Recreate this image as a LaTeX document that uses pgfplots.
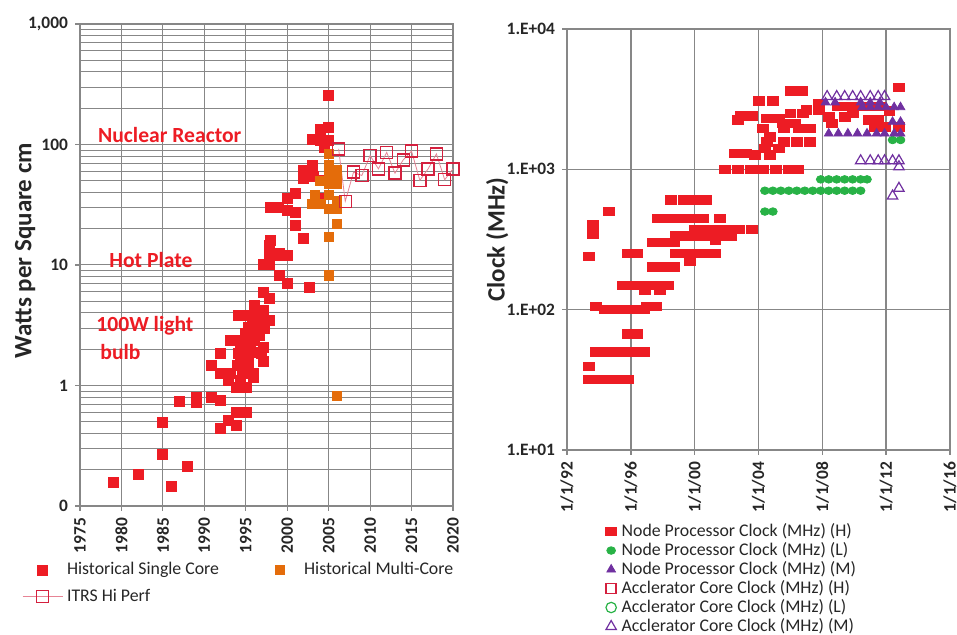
\documentclass[border=0pt]{standalone}
\usepackage{pgfplots}
\pgfplotsset{compat=1.18}
\usepackage{fontspec}
\setmainfont{Carlito}
\definecolor{cred}{RGB}{237,28,36}
\definecolor{corange}{RGB}{228,108,10}
\definecolor{citrs}{RGB}{212,32,62}
\definecolor{cgreen}{RGB}{40,178,70}
\definecolor{cpurple}{RGB}{112,48,160}
\definecolor{cgrid}{RGB}{135,135,135}
\begin{document}
\begin{tikzpicture}
\useasboundingbox (0,0) rectangle (478.5pt,317.5pt);
% ---------------- left chart ----------------
\begin{axis}[
  at={(40pt,64.5pt)}, anchor=south west, scale only axis,
  width=186.5pt, height=241pt, clip=false,
  xmin=1975, xmax=2020, ymode=log, ymin=0.1, ymax=1000,
  xtick={1975,1980,...,2020},
  xticklabels={1975,1980,1985,1990,1995,2000,2005,2010,2015,2020},
  ytick={0.1,1,10,100,1000},
  yticklabels={0,1,10,100,{1,000}},
  minor ytick={0.2,0.3,0.4,0.5,0.6,0.7,0.8,0.9,2,3,4,5,6,7,8,9,20,30,40,50,60,70,80,90,200,300,400,500,600,700,800,900},
  grid=both,
  major grid style={cgrid, line width=0.5pt},
  minor grid style={cgrid, line width=0.5pt},
  axis line style={cgrid, line width=0.7pt},
  tick style={cgrid, line width=0.6pt},
  tick align=outside, major tick length=2.5pt, minor tick length=0pt,
  xtick pos=bottom, ytick pos=left,
  ticklabel style={font=\bfseries\fontsize{8.7}{10}\selectfont, text=black!85},
  xticklabel style={rotate=90, anchor=east},
  ylabel={Watts per Square cm},
  ylabel style={at={(axis description cs:-0.147,0.53)}, anchor=center, font=\bfseries\fontsize{12.5}{14}\selectfont, text=black!85},
  legend columns=2,
  legend cell align=left,
  legend image code/.code={\path[draw=none,fill=none] (0pt,-2pt) rectangle (20pt,2pt); \draw[mark repeat=2,mark phase=2,#1] plot coordinates {(0pt,0pt) (10pt,0pt) (20pt,0pt)};},
  legend style={at={(axis description cs:-0.172,-0.1)}, anchor=north west, draw=none, fill=none,
    font=\fontsize{8.9}{10}\selectfont, text=black!85, row sep=1.5pt,
    /tikz/every even column/.append style={column sep=18.5pt}},
]
\addplot[only marks, mark=square*, mark size=2.5pt, mark options={draw=cred, fill=cred}] coordinates {
(1979,0.156) (1982,0.184) (1985,0.49) (1985,0.27) (1986,0.145) (1987,0.74) (1988,0.214)
(1989,0.80) (1989,0.72) (1990.9,1.47) (1990.9,0.80) (1991.9,1.83) (1991.9,1.25) (1991.9,0.75)
(1991.9,0.44) (1992.9,1.10) (1992.9,0.51) (1993.1,2.36) (1993.1,1.25) (1993.9,0.97) (1993.9,0.60)
(1993.9,0.47) (1994.1,3.8) (1994.1,1.83) (1994.0,1.47) (1994.3,2.36) (1994.3,2.08) (1994.3,1.10)
(1994.3,1.66) (1994.9,2.69) (1995.1,0.97) (1995.1,0.60) (1995.3,3.8) (1995.3,3.05) (1995.3,2.08)
(1995.3,1.66) (1995.3,1.47) (1995.9,1.25) (1995.9,1.17) (1996.1,4.6) (1996.1,2.36) (1996.5,3.46)
(1996.9,1.83) (1997.1,5.95) (1997.1,4.2) (1997.1,2.08) (1997.1,1.6) (1997.1,10.2) (1997.9,5.25)
(1997.9,3.46) (1997.9,10.2) (1997.9,14.5) (1997.8,12.0) (1998,15.9) (1998,30) (1998,12.4)
(1998.9,30) (1999.1,12.0) (1999.1,8.2) (1999,12.4) (2000,7.0) (2000,12.0) (2000,28.2) (2000,35.5)
(2001,39) (2001,27.4) (2001,21.3) (2002,16.5) (2002,52) (2002,61) (2002.7,6.5) (2003,67) (2003,111)
(2003.2,54) (2004,50) (2004,134) (2004,109) (2004,35.5) (2004.5,95) (2005,254) (2005,139) (2005,109)
(1995.7,2.6) (1996.3,3.0) (1996.0,1.9) (1995.6,2.2) (1996.7,2.6) (1997.3,3.0) (1996.6,4.0)
(1995.8,3.4) (1994.8,1.9) (1995.0,1.3) (1994.6,1.25)
};
\addlegendentry{Historical Single Core}
\addplot[only marks, mark=square*, mark size=2.3pt, mark options={draw=corange, fill=corange}] coordinates {
(2003,32) (2003.3,38) (2004,32) (2004,50) (2005,84) (2005,67) (2005,57) (2005,47) (2005,38)
(2005,29) (2005,17) (2005,8.2) (2006,61) (2006,57) (2006,47) (2006,34) (2006,29) (2006,22) (2006,0.82)
};
\addlegendentry{Historical Multi-Core}
\addplot[color=citrs!55, line width=0.4pt, mark=square, mark size=3pt, mark options={draw=citrs, line width=0.7pt, fill=none}] coordinates {
(2006.2,92) (2007,33.8) (2008,58.9) (2009,55.3) (2010,81) (2011,62.8) (2012,86) (2013,57.8)
(2014,74.6) (2015,88) (2016,50.4) (2017,62.8) (2018,83.6) (2019,51) (2020,62.8)
};
\addlegendentry{ITRS Hi Perf}
\end{axis}
\node[anchor=west, text=cred, font=\bfseries\fontsize{10.8}{12}\selectfont, inner sep=0pt] at (48.85pt,250pt) {Nuclear Reactor};
\node[anchor=west, text=cred, font=\bfseries\fontsize{10.8}{12}\selectfont, inner sep=0pt] at (54.5pt,187.5pt) {Hot Plate};
\node[anchor=west, text=cred, font=\bfseries\fontsize{10.8}{12}\selectfont, inner sep=0pt] at (48pt,154.5pt) {100W light};
\node[anchor=west, text=cred, font=\bfseries\fontsize{10.8}{12}\selectfont, inner sep=0pt] at (50pt,141.5pt) {bulb};
% ---------------- right chart ----------------
\begin{axis}[
  at={(283.5pt,92.5pt)}, anchor=south west, scale only axis,
  width=191.5pt, height=210.5pt, clip=false,
  xmin=1992, xmax=2016, ymode=log, ymin=10, ymax=10000,
  xtick={1992,1996,...,2016},
  xticklabels={1/1/92,1/1/96,1/1/00,1/1/04,1/1/08,1/1/12,1/1/16},
  ytick={10,100,1000,10000},
  yticklabels={1.E+01,1.E+02,1.E+03,1.E+04},
  minor ytick={},
  grid=major,
  major grid style={cgrid, line width=0.8pt},
  axis line style={cgrid, line width=0.8pt},
  tick style={cgrid, line width=0.7pt},
  tick align=outside, major tick length=2.5pt, minor tick length=0pt,
  xtick pos=bottom, ytick pos=left,
  ticklabel style={font=\bfseries\fontsize{8.7}{10}\selectfont, text=black!85},
  xticklabel style={rotate=90, anchor=east},
  ylabel={Clock (MHz)},
  ylabel style={at={(axis description cs:-0.182,0.5)}, anchor=center, font=\bfseries\fontsize{12.5}{14}\selectfont, text=black!85},
  legend cell align=left,
  legend image code/.code={\draw[#1] plot coordinates {(0pt,0pt)};},
  legend style={at={(axis description cs:0.1,-0.173)}, anchor=north west, draw=none, fill=none,
    inner sep=0pt, font=\fontsize{8.9}{10}\selectfont, text=black!85, row sep=1.2pt,
    nodes={inner sep=0pt, text height=6.5pt, text depth=1.8pt},
    /tikz/every odd column/.append style={column sep=2.5pt}},
]
\addplot[only marks, mark=square*, mark size=2.1pt, mark options={xscale=1.3, draw=cred, fill=cred}] coordinates {
(1993.4,32) (1994.0,32) (1994.6,32) (1995.2,32) (1995.8,32)
(1993.4,39.6)
(1993.8,50) (1994.4,50) (1995.0,50) (1995.6,50) (1996.2,50) (1996.8,50)
(1995.8,67) (1996.4,67)
(1994.4,100) (1995.0,100) (1995.6,100) (1996.2,100) (1996.8,100)
(1993.8,106) (1997.0,106) (1997.6,106)
(1996.9,138) (1997.8,138)
(1995.5,149) (1996.2,149) (1996.9,149) (1997.6,149) (1998.3,149)
(1997.4,202) (1998.0,202) (1998.7,202)
(1999.7,222)
(1993.4,239)
(1995.8,252) (1996.4,252) (1998.8,252) (1999.4,252) (2000.0,252) (2000.6,252) (2001.3,252)
(1997.4,302) (1998.1,302) (1998.7,302)
(2001.3,313)
(1998.8,335) (1999.5,335) (2000.2,335) (2000.9,335) (2001.6,335) (2002.3,335)
(1993.6,344)
(2000.0,374) (2000.7,374) (2001.4,374) (2002.1,374) (2002.8,374) (2003.6,374)
(1993.6,401)
(1997.7,448) (1998.4,448) (1999.1,448) (1999.8,448) (2000.5,448) (2001.6,448)
(1994.6,499)
(1998.5,604) (1999.3,604) (2000.1,604) (2000.7,604)
(2001.9,1000) (2002.7,1000) (2003.5,1000) (2004.3,1000) (2005.1,1000) (2005.9,1000) (2006.5,1000)
(2003.8,1265) (2004.7,1265)
(2002.5,1300) (2003.2,1300)
(2004.4,1410) (2005.3,1410)
(2004.5,1570) (2005.6,1570) (2006.4,1570) (2007.2,1570)
(2004.7,1707)
(2004.3,1960) (2005.6,1960) (2006.5,1960) (2007.2,1960)
(2005.5,2128) (2006.3,2128)
(2002.7,2250) (2010.9,2250) (2011.5,2250)
(2004.5,2310) (2005.3,2310)
(2002.9,2400) (2003.6,2400)
(2006.0,2510) (2006.8,2510) (2009.9,2510)
(2007.0,2645) (2007.8,2645)
(2008.4,2370) (2009.4,2370)
(2008.6,2130)
(2011.3,2000) (2011.9,2000) (2012.8,2000)
(2007.8,2955)
(2004.05,3080) (2004.9,3080)
(2006.0,3630) (2006.7,3630)
(2012.8,3837)
(2009.0,2800) (2009.6,2800) (2010.3,2800) (2011.0,2800) (2011.6,2800) (2012.2,2600)
};
\addlegendentry{Node Processor Clock (MHz) (H)}
\addplot[only marks, mark=*, mark size=1.9pt, mark options={xscale=1.15, draw=cgreen, fill=cgreen}] coordinates {
(2004.4,500) (2004.9,500)
(2004.4,704) (2004.9,704) (2005.4,704) (2005.9,704) (2006.4,704) (2006.9,704) (2007.4,704)
(2007.9,704) (2008.4,704) (2008.9,704) (2009.4,704) (2009.9,704) (2010.4,704)
(2007.9,848) (2008.4,848) (2008.9,848) (2009.4,848) (2009.9,848) (2010.4,848) (2010.8,848)
(2012.4,1618) (2012.9,1618)
};
\addlegendentry{Node Processor Clock (MHz) (L)}
\addplot[only marks, mark=triangle*, mark size=2.5pt, mark options={draw=cpurple, fill=cpurple}] coordinates {
(2008.4,1800) (2009.0,1800) (2009.6,1800) (2010.2,1800) (2010.8,1800) (2011.4,1800) (2011.9,1800)
(2012.5,1800) (2012.9,1800)
(2012.4,2180) (2012.9,2180)
(2010.5,2770) (2011.0,2770) (2011.5,2770) (2012.0,2770) (2012.5,2770) (2012.9,2770)
(2008.2,3000) (2008.8,3000) (2010.4,3000) (2011.0,3000) (2011.6,3000)
};
\addlegendentry{Node Processor Clock (MHz) (M)}
\addlegendimage{only marks, draw=citrs, color=citrs, mark=square*, mark size=2.5pt, mark options={draw=citrs, fill=white, line width=0.7pt}}
\addlegendentry{Acclerator Core Clock (MHz) (H)}
\addlegendimage{only marks, color=cgreen, mark=o, mark size=2.6pt, mark options={draw=cgreen, line width=0.6pt}}
\addlegendentry{Acclerator Core Clock (MHz) (L)}
\addplot[only marks, mark=triangle, mark size=3pt, mark options={draw=cpurple, line width=0.6pt, fill=none}] coordinates {
(2008.3,3300) (2008.9,3300) (2009.4,3300) (2009.9,3300) (2010.4,3300) (2011.0,3300) (2011.5,3300) (2011.9,3300)
(2010.4,1150) (2011.0,1150) (2011.5,1150) (2011.9,1150) (2012.4,1150) (2012.8,1150)
(2012.8,1043) (2012.8,732) (2012.4,645)
};
\addlegendentry{Acclerator Core Clock (MHz) (M)}
\end{axis}
\end{tikzpicture}
\end{document}
